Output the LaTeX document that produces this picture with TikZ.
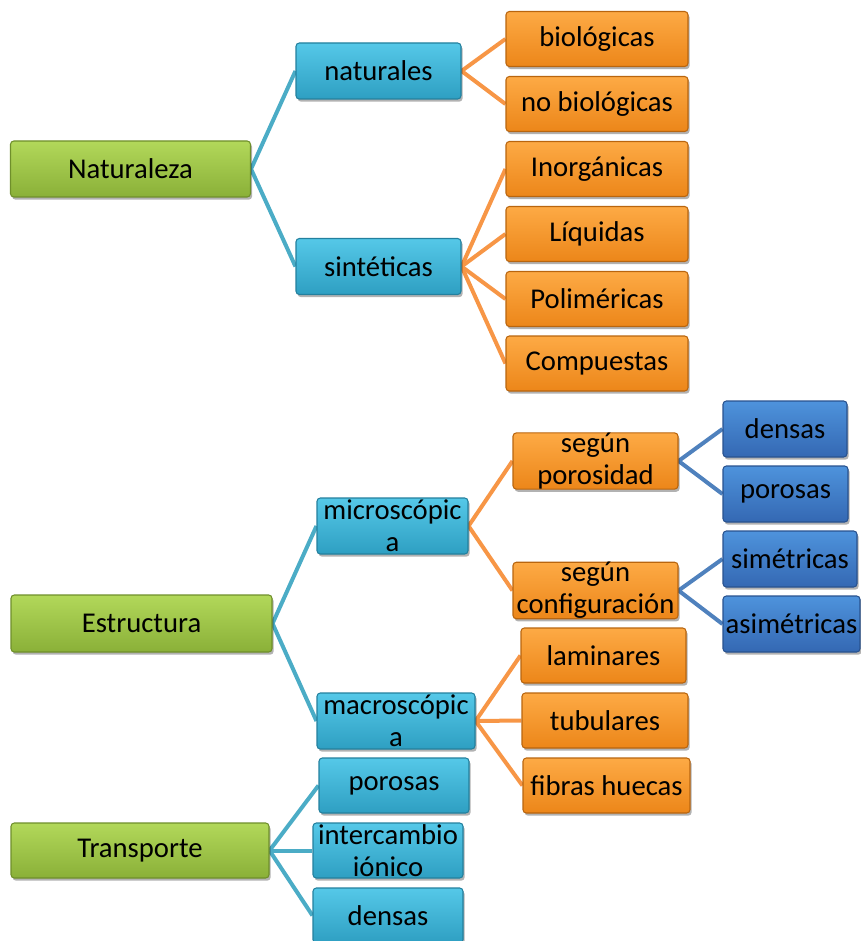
\documentclass[tikz,border=0pt]{standalone}
\usepackage{fontspec}
\setmainfont{Carlito}
\usetikzlibrary{shadows,backgrounds}
\definecolor{grnT}{HTML}{B2D85A}
\definecolor{grnD}{HTML}{8AB038}
\definecolor{grnB}{HTML}{6F8F2B}
\definecolor{cyaT}{HTML}{55C8E8}
\definecolor{cyaD}{HTML}{2E9FC2}
\definecolor{cyaB}{HTML}{23809E}
\definecolor{orgT}{HTML}{FDAA45}
\definecolor{orgD}{HTML}{EC8619}
\definecolor{orgB}{HTML}{B9650E}
\definecolor{bluT}{HTML}{4E93DC}
\definecolor{bluD}{HTML}{3468B3}
\definecolor{bluB}{HTML}{28528F}
\definecolor{cyaL}{HTML}{4BACC6}
\definecolor{orgL}{HTML}{F79646}
\definecolor{bluL}{HTML}{4F81BD}
\tikzset{
  box/.style={rounded corners=2.5pt, inner sep=0pt, align=center,
    font=\fontsize{21.5}{24}\selectfont, text=black, line width=0.8pt,
    drop shadow={shadow xshift=1.2pt, shadow yshift=-2pt, opacity=0.3, fill=black}},
  greenbox/.style={box, draw=grnB, top color=grnT, bottom color=grnD},
  cyanbox/.style={box, draw=cyaB, top color=cyaT, bottom color=cyaD},
  orangebox/.style={box, draw=orgB, top color=orgT, bottom color=orgD},
  bluebox/.style={box, draw=bluB, top color=bluT, bottom color=bluD},
  link/.style={line width=3pt, line join=round},
  cyanlink/.style={link, draw=cyaL},
  orangelink/.style={link, draw=orgL},
  bluelink/.style={link, draw=bluL}
}
\newcommand\mybox[7]{\node[#1, minimum width=#5*0.75pt, minimum height=#6*0.75pt] (#2) at (#3,#4) {#7};}
\begin{document}
\begin{tikzpicture}[x=0.75pt,y=-0.75pt]
\useasboundingbox (0,0) rectangle (860,941);
% Naturaleza
\mybox{greenbox}{nat}{130.5}{169}{240}{56}{Naturaleza}
\mybox{cyanbox}{naturales}{378.5}{71}{165}{56}{naturales}
\mybox{cyanbox}{sint}{378.5}{266.5}{165}{56}{sintéticas}
\mybox{orangebox}{bio}{597}{39}{182}{55}{biológicas}
\mybox{orangebox}{nobio}{597}{104}{182}{55}{no biológicas}
\mybox{orangebox}{inorg}{597}{169}{182}{55}{Inorgánicas}
\mybox{orangebox}{liq}{597}{234}{182}{55}{Líquidas}
\mybox{orangebox}{poli}{597}{299}{182}{55}{Poliméricas}
\mybox{orangebox}{comp}{597}{363.5}{182}{55}{Compuestas}
% Estructura
\mybox{greenbox}{est}{141.5}{623.5}{261}{57}{Estructura}
\mybox{cyanbox}{micro}{392.5}{526}{151}{56}{microscópic\\a}
\mybox{cyanbox}{macro}{396}{721}{158}{56}{macroscópic\\a}
\mybox{orangebox}{segpor}{595.5}{461}{165}{56}{según\\porosidad}
\mybox{orangebox}{segconf}{595.5}{590.5}{165}{55}{según\\configuración}
\mybox{bluebox}{densasB}{785}{429}{124}{56}{densas}
\mybox{bluebox}{porosasB}{785.5}{494}{125}{56}{porosas}
\mybox{bluebox}{sim}{790}{559}{134}{56}{simétricas}
\mybox{bluebox}{asim}{791.5}{624}{137}{56}{asimétricas}
\mybox{orangebox}{lam}{603.5}{655.5}{165}{55}{laminares}
\mybox{orangebox}{tub}{605}{720.5}{166}{55}{tubulares}
\mybox{orangebox}{fib}{606.5}{785.5}{167}{55}{fibras huecas}
% Transporte
\mybox{greenbox}{trans}{140}{850.5}{258}{55}{Transporte}
\mybox{cyanbox}{porosasC}{394}{785.5}{150}{55}{porosas}
\mybox{cyanbox}{inter}{388}{850.5}{150}{55}{intercambio\\iónico}
\mybox{cyanbox}{densasC}{388}{915.5}{150}{55}{densas}
% connectors
\begin{scope}[on background layer]
\draw[cyanlink] (naturales.west) -- (nat.east) -- (sint.west);
\draw[orangelink] (bio.west) -- (naturales.east) -- (nobio.west);
\draw[orangelink] (sint.east) -- (inorg.west);
\draw[orangelink] (sint.east) -- (liq.west);
\draw[orangelink] (sint.east) -- (poli.west);
\draw[orangelink] (sint.east) -- (comp.west);
\draw[cyanlink] (micro.west) -- (est.east) -- (macro.west);
\draw[orangelink] (segpor.west) -- (micro.east) -- (segconf.west);
\draw[bluelink] (densasB.west) -- (segpor.east) -- (porosasB.west);
\draw[bluelink] (sim.west) -- (segconf.east) -- (asim.west);
\draw[orangelink] (macro.east) -- (lam.west);
\draw[orangelink] (macro.east) -- (tub.west);
\draw[orangelink] (macro.east) -- (fib.west);
\draw[cyanlink] (trans.east) -- (porosasC.west);
\draw[cyanlink] (trans.east) -- (inter.west);
\draw[cyanlink] (trans.east) -- (densasC.west);
\end{scope}
\end{tikzpicture}
\end{document}
